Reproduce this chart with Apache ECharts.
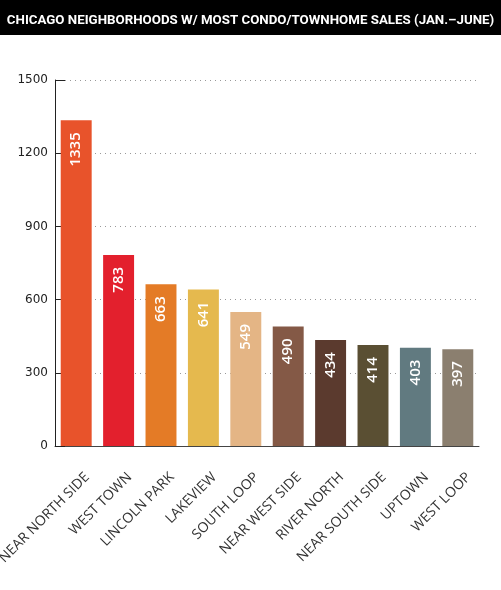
<!DOCTYPE html>
<html>
<head>
<meta charset="utf-8">
<script src="https://cdn.jsdelivr.net/npm/echarts@6/dist/echarts.min.js"></script>
<style>
html,body{margin:0;padding:0;background:#fff;}
#chart{width:501px;height:590px;}
</style>
</head>
<body>
<div id="chart"></div>
<script>
var titleText = 'CHICAGO NEIGHBORHOODS W/ MOST CONDO/TOWNHOME SALES (JAN.\u2013JUNE)';
var categories = ['NEAR NORTH SIDE','WEST TOWN','LINCOLN PARK','LAKEVIEW','SOUTH LOOP','NEAR WEST SIDE','RIVER NORTH','NEAR SOUTH SIDE','UPTOWN','WEST LOOP'];
var sales = [1335, 783, 663, 641, 549, 490, 434, 414, 403, 397];
var barColors = ['#E8532B','#E3202D','#E47B26','#E5B94E','#E4B585','#845946','#5B3A2E','#5A4F33','#617A80','#8B7F6F'];
var yTicks = [0, 300, 600, 900, 1200, 1500];

var chart = echarts.init(document.getElementById('chart'));
chart.setOption({
  animation: false,
  graphic: [{
    type: 'rect', left: 0, top: 0, z: -1,
    shape: { width: 501, height: 35 },
    style: { fill: '#000' }
  }],
  title: {
    text: titleText,
    left: 'center', top: 9,
    textStyle: { color: '#fff', fontFamily: 'Roboto', fontWeight: 'bold', fontSize: 13.3 }
  },
  grid: { left: 55, right: 22, top: 80, bottom: 144, containLabel: false, outerBoundsMode: 'none' },
  xAxis: {
    type: 'category',
    data: categories,
    axisLine: { lineStyle: { color: '#444', width: 1 } },
    axisTick: { inside: true, length: 8, lineStyle: { color: '#333' } },
    axisLabel: {
      rotate: 45, interval: 0, color: '#333', fontFamily: 'Open Sans', fontSize: 14,
      margin: 18, align: 'right', verticalAlign: 'top', lineHeight: 31
    }
  },
  yAxis: {
    type: 'value',
    min: yTicks[0], max: yTicks[yTicks.length - 1], interval: yTicks[1] - yTicks[0],
    axisLine: { show: true, lineStyle: { color: '#222', width: 1 } },
    axisTick: { show: true, inside: true, length: 10, lineStyle: { color: '#222' } },
    axisLabel: { color: '#222', fontFamily: 'DejaVu Sans', fontSize: 12, margin: 7,
      formatter: function (v) { return String(v); } },
    splitLine: { show: true, lineStyle: { color: '#999', type: [1, 4], width: 1 } }
  },
  series: [{
    type: 'bar',
    data: sales.map(function (v, i) { return { value: v, itemStyle: { color: barColors[i] } }; }),
    barCategoryGap: '27%',
    label: {
      show: true, position: 'insideTop', rotate: 90, align: 'right', verticalAlign: 'middle',
      distance: 12, color: '#fff', fontFamily: 'Open Sans', fontWeight: 600, fontSize: 15
    }
  }]
});
</script>
</body>
</html>
